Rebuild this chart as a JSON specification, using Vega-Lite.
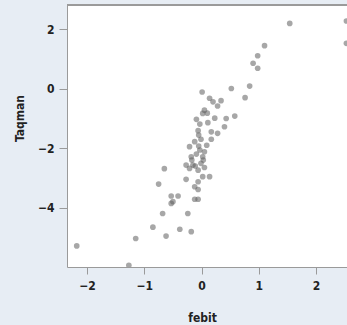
{
  "$schema": "https://vega.github.io/schema/vega-lite/v6.json",
  "autosize": "none",
  "padding": {"left": 67, "top": 5, "right": 0, "bottom": 58},
  "width": 280,
  "height": 262,
  "background": "#e7edf4",
  "config": {
    "view": {"fill": "white", "stroke": null},
    "axis": {
      "labelFont": "'DejaVu Sans Condensed', 'Liberation Sans Narrow', 'Open Sans', sans-serif",
      "titleFont": "'DejaVu Sans Condensed', 'Liberation Sans Narrow', 'Open Sans', sans-serif",
      "labelFontSize": 12,
      "titleFontSize": 12,
      "labelColor": "#222222",
      "titleColor": "#222222",
      "titleFontWeight": "bold",
      "labelFontWeight": "bold",
      "domainColor": "#9a9a9a",
      "tickColor": "#9a9a9a",
      "grid": false
    }
  },
  "data": {
    "values": [
      {"febit": 1.54, "Taqman": 2.2},
      {"febit": 1.1, "Taqman": 1.45},
      {"febit": 0.98, "Taqman": 1.11},
      {"febit": 0.9, "Taqman": 0.86},
      {"febit": 0.98, "Taqman": 0.69},
      {"febit": 0.84, "Taqman": 0.09},
      {"febit": 0.52, "Taqman": 0.01},
      {"febit": 0.76, "Taqman": -0.3},
      {"febit": 0.01, "Taqman": -0.11},
      {"febit": 0.34, "Taqman": -0.4},
      {"febit": 0.14, "Taqman": -0.32},
      {"febit": 0.2, "Taqman": -0.44},
      {"febit": 0.28, "Taqman": -0.58},
      {"febit": 0.05, "Taqman": -0.72},
      {"febit": 0.02, "Taqman": -0.83},
      {"febit": 0.58, "Taqman": -0.92},
      {"febit": 0.43, "Taqman": -1.0},
      {"febit": -0.09, "Taqman": -1.03},
      {"febit": -0.03, "Taqman": -1.19},
      {"febit": 0.11, "Taqman": -1.14},
      {"febit": 0.4, "Taqman": -1.28},
      {"febit": 0.17, "Taqman": -1.45},
      {"febit": 0.28, "Taqman": -1.5},
      {"febit": -0.06, "Taqman": -1.41},
      {"febit": -0.01, "Taqman": -1.7},
      {"febit": 0.17, "Taqman": -1.7},
      {"febit": -0.12, "Taqman": -1.78},
      {"febit": -0.21, "Taqman": -1.95},
      {"febit": -0.03, "Taqman": -2.06},
      {"febit": 0.05, "Taqman": -2.12},
      {"febit": -0.09, "Taqman": -2.2},
      {"febit": -0.18, "Taqman": -2.29},
      {"febit": 0.02, "Taqman": -2.29},
      {"febit": -0.15, "Taqman": -2.57},
      {"febit": -0.01, "Taqman": -2.51},
      {"febit": 0.05, "Taqman": -2.65},
      {"febit": -0.27, "Taqman": -2.57},
      {"febit": -0.65, "Taqman": -2.69},
      {"febit": -0.11, "Taqman": -2.6},
      {"febit": -0.06, "Taqman": -2.74},
      {"febit": -0.21, "Taqman": -2.68},
      {"febit": 0.14, "Taqman": -2.96},
      {"febit": 0.02, "Taqman": -2.96},
      {"febit": -0.27, "Taqman": -3.05},
      {"febit": -0.75, "Taqman": -3.21},
      {"febit": -0.06, "Taqman": -3.13},
      {"febit": -0.12, "Taqman": -3.3},
      {"febit": -0.06, "Taqman": -3.39},
      {"febit": -0.53, "Taqman": -3.61},
      {"febit": -0.41, "Taqman": -3.61},
      {"febit": -0.5, "Taqman": -3.8},
      {"febit": -0.53, "Taqman": -3.86},
      {"febit": -0.12, "Taqman": -3.72},
      {"febit": -0.06, "Taqman": -3.72},
      {"febit": -0.68, "Taqman": -4.2},
      {"febit": -0.24, "Taqman": -4.2},
      {"febit": -0.85, "Taqman": -4.66},
      {"febit": -0.38, "Taqman": -4.73},
      {"febit": -0.18, "Taqman": -4.81},
      {"febit": -0.62, "Taqman": -4.96},
      {"febit": -1.15, "Taqman": -5.04},
      {"febit": -2.18, "Taqman": -5.29},
      {"febit": -1.27, "Taqman": -5.94},
      {"febit": 2.53, "Taqman": 2.28},
      {"febit": 2.53, "Taqman": 1.53},
      {"febit": 0.09, "Taqman": -1.9},
      {"febit": -0.05, "Taqman": -1.56},
      {"febit": 0.03, "Taqman": -2.4},
      {"febit": 0.1, "Taqman": -0.82},
      {"febit": 0.23, "Taqman": -0.99},
      {"febit": -0.17, "Taqman": -2.4},
      {"febit": -0.05, "Taqman": -1.93}
    ]
  },
  "layer": [
    {
      "mark": {"type": "point", "filled": true, "color": "#5e5e5e", "opacity": 0.55, "size": 32, "clip": true},
      "encoding": {
        "x": {
          "field": "febit", "type": "quantitative",
          "scale": {"domain": [-2.35, 2.54], "nice": false, "zero": false},
          "axis": {"values": [-2, -1, 0, 1, 2], "title": "febit", "tickSize": 7, "labelPadding": 6,
                   "titleX": 135, "titleY": 54, "titleBaseline": "alphabetic", "titleAnchor": null}
        },
        "y": {
          "field": "Taqman", "type": "quantitative",
          "scale": {"domain": [-6, 2.82], "nice": false, "zero": false},
          "axis": {"values": [-4, -2, 0, 2], "title": "Taqman", "tickSize": 8, "labelPadding": 5,
                   "titleX": -41, "titleY": 113, "titleAnchor": null}
        }
      }
    },
    {
      "mark": {"type": "rule", "color": "#9a9a9a", "strokeWidth": 1},
      "encoding": {"y": {"datum": 2.82}}
    }
  ]
}
